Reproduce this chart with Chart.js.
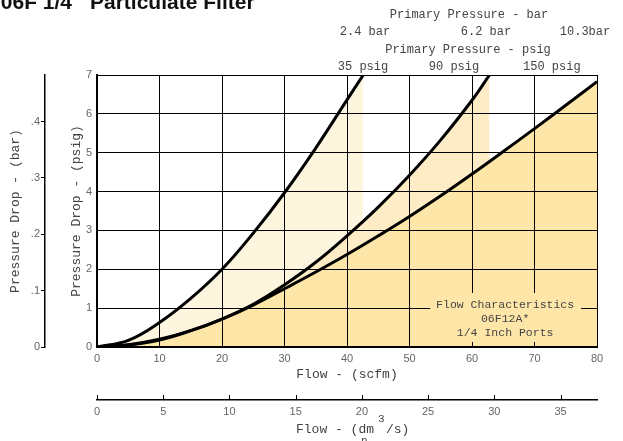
<!DOCTYPE html>
<html>
<head>
<meta charset="utf-8">
<script src="https://cdn.jsdelivr.net/npm/chart.js@4"></script>
<style>
  body { margin: 0; background: #fff; }
  canvas { display: block; }
</style>
</head>
<body>
<canvas id="chart" width="623" height="441"></canvas>
<script>
// Flow (scfm) vs pressure drop (psig), one curve per primary pressure
const flow35 = [0, 5, 10, 15, 20, 25, 30, 35, 40, 42.6];
const drop35 = [0, 0.17, 0.63, 1.25, 2.0, 2.93, 3.97, 5.12, 6.36, 7.0];

const flow90 = [0, 5, 10, 15, 20, 25, 30, 35, 40, 45, 50, 55, 60, 62.8];
const drop90 = [0, 0.06, 0.2, 0.42, 0.72, 1.1, 1.6, 2.18, 2.86, 3.6, 4.42, 5.33, 6.35, 7.0];

const flow150 = [0, 5, 10, 15, 20, 25, 30, 35, 40, 45, 50, 55, 60, 65, 70, 75, 80];
const drop150 = [0, 0.05, 0.18, 0.42, 0.72, 1.08, 1.5, 1.93, 2.38, 2.86, 3.36, 3.89, 4.45, 5.03, 5.62, 6.22, 6.83];

const barLabels = ['2.4 bar', '6.2 bar', '10.3bar'];
const psigLabels = ['35 psig', '90 psig', '150 psig'];
const noteLines = ['Flow Characteristics', '06F12A*', '1/4 Inch Ports'];

const PSI_PER_BAR = 14.5038;
const DM3S_PER_SCFM = 0.4719;

const mono = '"Liberation Mono", monospace';
const sans = '"Liberation Sans", sans-serif';
const textGray = '#444';

function pts(xs, ys) {
  return xs.map((x, i) => ({ x: x, y: ys[i] }));
}

// ticks only on whole steps, without the extra tick at max
function onStep(step) {
  return scale => {
    const ticks = [];
    for (let i = 0; i * step <= scale.max + 1e-9; i++) {
      ticks.push({ value: Math.round(i * step * 1000) / 1000 });
    }
    scale.ticks = ticks;
  };
}

// Extra texts, upward ticks on the dm3/s axis and the note box
const decorations = {
  id: 'decorations',
  afterDraw(chart) {
    const ctx = chart.ctx;
    const area = chart.chartArea;
    const x2 = chart.scales.x2;
    ctx.save();

    // title, cut off at the top edge like the source
    ctx.fillStyle = '#111';
    ctx.font = 'bold 21px ' + sans;
    ctx.textBaseline = 'alphabetic';
    ctx.textAlign = 'right';
    ctx.fillText('06F 1/4', 72, 9);
    ctx.textAlign = 'left';
    ctx.fillText('Particulate Filter', 90, 9);

    // top labels
    ctx.fillStyle = textGray;
    ctx.font = '12px ' + mono;
    ctx.textAlign = 'center';
    ctx.textBaseline = 'middle';
    ctx.fillText('Primary Pressure - bar', 469, 15);
    ctx.fillText(barLabels[0], 365, 32);
    ctx.fillText(barLabels[1], 486, 32);
    ctx.fillText(barLabels[2], 585, 32);
    ctx.fillText('Primary Pressure - psig', 468, 50);
    ctx.fillText(psigLabels[0], 363, 67);
    ctx.fillText(psigLabels[1], 454, 67);
    ctx.save();
    ctx.beginPath();
    ctx.rect(500, 55, 83, 20);
    ctx.clip();
    ctx.textAlign = 'left';
    ctx.fillText(psigLabels[2], 523, 67);
    ctx.restore();

    // upward tick marks on the dm3/s axis
    ctx.strokeStyle = '#000';
    ctx.lineWidth = 1;
    x2.ticks.forEach(t => {
      const px = Math.round(x2.getPixelForValue(t.value)) + 0.5;
      ctx.beginPath();
      ctx.moveTo(px, x2.top);
      ctx.lineTo(px, x2.top - 5);
      ctx.stroke();
    });

    // dm3/s axis title with superscript and subscript
    const cx = (area.left + area.right) / 2;
    ctx.fillStyle = textGray;
    ctx.font = '13px ' + mono;
    ctx.textBaseline = 'middle';
    ctx.textAlign = 'right';
    ctx.fillText('Flow - (dm', cx + 27, 430);
    ctx.textAlign = 'left';
    ctx.fillText('/s)', cx + 39, 430);
    ctx.font = '11px ' + mono;
    ctx.fillText('3', cx + 31, 419);
    ctx.fillText('n', cx + 14, 441);

    // note box over the grid
    const nx = chart.scales.x.getPixelForValue(65.3);
    ctx.fillStyle = '#fde6a8';
    ctx.fillRect(nx - 75, area.bottom - 54, 151, 49);
    ctx.fillStyle = textGray;
    ctx.font = '11.5px ' + mono;
    ctx.textAlign = 'center';
    noteLines.forEach((s, i) => {
      ctx.fillText(s, nx, area.bottom - 42 + i * 14);
    });
    ctx.restore();
  }
};

new Chart(document.getElementById('chart'), {
  type: 'line',
  data: {
    datasets: [
      {
        label: '35 psig',
        data: pts(flow35, drop35),
        borderColor: '#000',
        borderWidth: 3,
        backgroundColor: '#fef5df',
        fill: 'origin',
        order: 3
      },
      {
        label: '90 psig',
        data: pts(flow90, drop90),
        borderColor: '#000',
        borderWidth: 3,
        backgroundColor: '#feecc6',
        fill: 'origin',
        order: 2
      },
      {
        label: '150 psig',
        data: pts(flow150, drop150),
        borderColor: '#000',
        borderWidth: 3,
        backgroundColor: '#fde6a8',
        fill: 'origin',
        order: 1
      }
    ]
  },
  options: {
    responsive: false,
    animation: false,
    layout: { padding: { top: 75, right: 26, left: 0, bottom: 0 } },
    elements: {
      point: { radius: 0 },
      line: { tension: 0.4 }
    },
    plugins: {
      legend: { display: false },
      tooltip: { enabled: false },
      filler: { drawTime: 'beforeDatasetsDraw' }
    },
    scales: {
      x: {
        type: 'linear',
        position: 'bottom',
        min: 0,
        max: 80,
        afterFit: s => { s.height = 53; },
        grid: { color: '#000', lineWidth: 1, drawTicks: false, z: 1 },
        border: { color: '#000', width: 2, z: 1 },
        ticks: {
          stepSize: 10,
          padding: 5,
          color: '#666',
          font: { family: sans, size: 11 }
        },
        title: {
          display: true,
          text: 'Flow - (scfm)',
          color: textGray,
          font: { family: mono, size: 13 },
          padding: { top: 0, bottom: 18 }
        }
      },
      x2: {
        type: 'linear',
        position: 'bottom',
        weight: 1,
        min: 0,
        max: 80 * DM3S_PER_SCFM,
        afterFit: s => { s.height = 41; },
        afterBuildTicks: onStep(5),
        grid: { display: false, drawTicks: false },
        border: { color: '#000', width: 1.5 },
        ticks: {
          stepSize: 5,
          padding: 5,
          color: '#666',
          font: { family: sans, size: 11 }
        }
      },
      y: {
        type: 'linear',
        position: 'left',
        min: 0,
        max: 7,
        afterFit: s => { s.width = 52; },
        grid: { color: '#000', lineWidth: 1, drawTicks: false, z: 1 },
        border: { color: '#000', width: 2, z: 1 },
        ticks: {
          stepSize: 1,
          padding: 5,
          color: '#666',
          font: { family: sans, size: 11 }
        },
        title: {
          display: true,
          text: 'Pressure Drop - (psig)',
          color: textGray,
          font: { family: mono, size: 13 },
          padding: { top: 24, bottom: 0 }
        }
      },
      y2: {
        type: 'linear',
        position: 'left',
        weight: 1,
        min: 0,
        max: 7 / PSI_PER_BAR,
        afterFit: s => { s.width = 45; },
        afterBuildTicks: onStep(0.1),
        grid: { drawOnChartArea: false, drawTicks: true, tickLength: 4, color: '#000' },
        border: { color: '#000', width: 1.5 },
        ticks: {
          stepSize: 0.1,
          padding: 1,
          color: '#666',
          font: { family: sans, size: 11 },
          callback: v => v === 0 ? '0' : String(Math.round(v * 10) / 10).replace(/^0/, '')
        },
        title: {
          display: true,
          text: 'Pressure Drop - (bar)',
          color: textGray,
          font: { family: mono, size: 13 },
          padding: { top: 8, bottom: 0 }
        }
      }
    }
  },
  plugins: [decorations]
});
</script>
</body>
</html>
